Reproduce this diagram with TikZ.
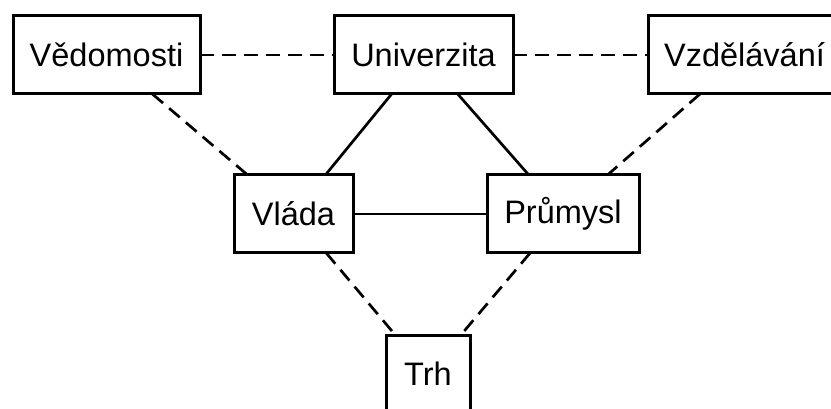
\documentclass[tikz,border=0pt]{standalone}
\usepackage{fontspec}
\setmainfont{Liberation Sans}
\begin{document}
\begin{tikzpicture}[x=1pt,y=-1pt,
  box/.style={draw,line width=3pt,rectangle,inner sep=0pt,outer sep=0pt,
    minimum height=78pt,font=\fontsize{32.5}{38}\selectfont},
  link/.style={line width=2.7pt},
  weak/.style={line width=2.7pt,dash pattern=on 14pt off 8pt}]
  \useasboundingbox (0,0) rectangle (831,409);
  \clip (0,0) rectangle (831,409);
  \node[box,minimum width=187pt] (ved) at (106.5,55) {Vědomosti};
  \node[box,minimum width=179pt] (uni) at (423.5,55) {Univerzita};
  \node[box,minimum width=193pt] (vzd) at (744.5,55) {Vzdělávání};
  \node[box,minimum width=119pt] (vla) at (293.5,214) {Vláda};
  \node[box,minimum width=152pt] (pru) at (563,214) {Průmysl};
  \node[box,minimum width=84pt] (trh) at (428,374) {Trh};
  \draw[weak] (ved) -- (uni);
  \draw[weak] (uni) -- (vzd);
  \draw[weak] (ved) -- (vla);
  \draw[weak] (vzd) -- (pru);
  \draw[link] (uni) -- (vla);
  \draw[link] (uni) -- (pru);
  \draw[link] (vla) -- (pru);
  \draw[weak] (vla) -- (trh);
  \draw[weak] (pru) -- (trh);
\end{tikzpicture}
\end{document}
